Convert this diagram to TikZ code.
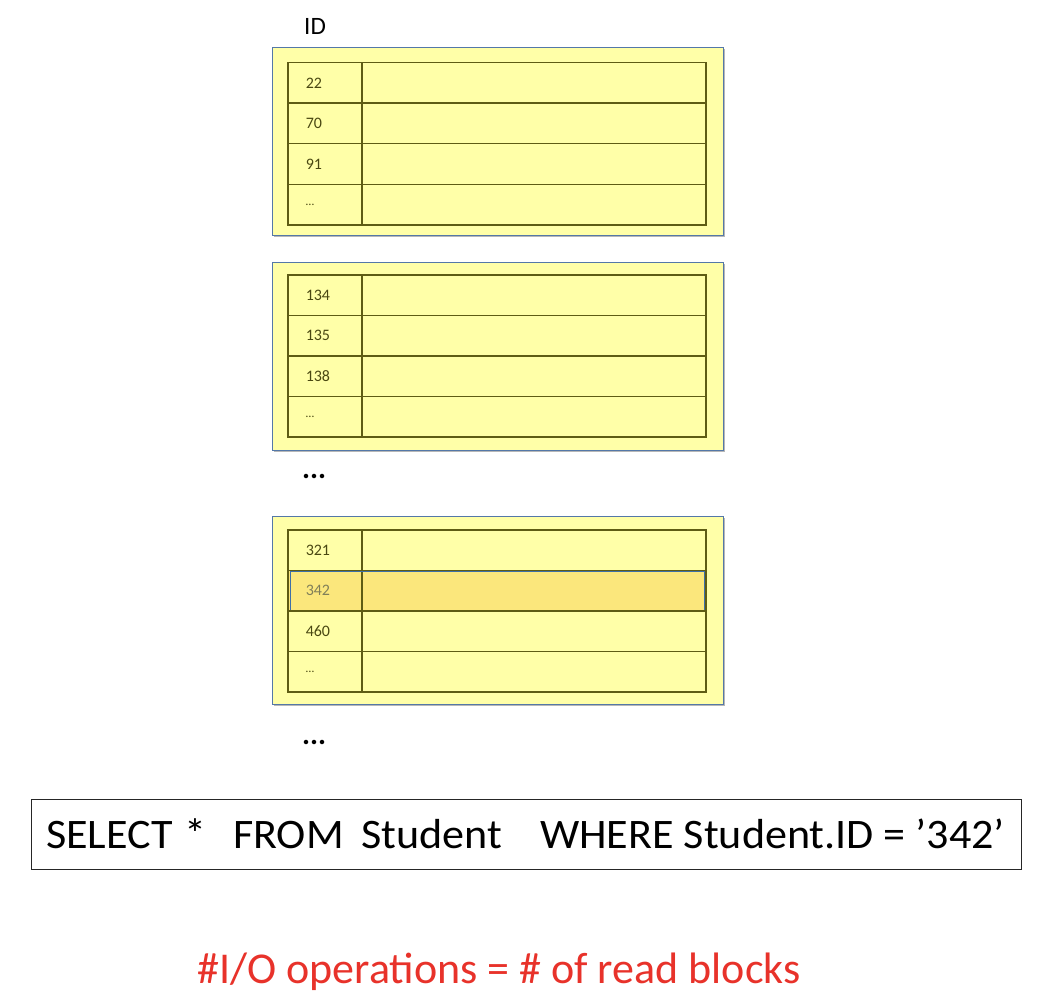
\documentclass[tikz,border=0pt]{standalone}
\usepackage{fontspec}
\setmainfont{Carlito}
\usetikzlibrary{shadows}
\definecolor{cellyellow}{HTML}{FFFFA8}
\definecolor{hiyellow}{HTML}{FBE77C}
\definecolor{olivegrid}{HTML}{5E5C14}
\definecolor{numtext}{HTML}{4A4812}
\definecolor{blockblue}{HTML}{5478A8}
\definecolor{hiblue}{HTML}{3E6FA8}
\definecolor{redtext}{HTML}{E8322A}
\tikzset{
  blockbox/.style={draw=blockblue, fill=cellyellow, line width=1.3pt, anchor=north west,
    minimum width=451pt, minimum height=188pt, inner sep=0pt,
    drop shadow={shadow xshift=1.5pt, shadow yshift=-1.5pt, fill=black!35, opacity=0.8}},
  idcell/.style={draw=olivegrid, fill=cellyellow, line width=1.5pt, anchor=north west,
    minimum height=40.5pt, text width=74pt, inner xsep=0pt, inner ysep=0pt, align=left,
    text=numtext, font=\fontsize{16}{18}\selectfont},
  datacell/.style={draw=olivegrid, fill=cellyellow, line width=1.5pt, anchor=north west,
    minimum height=40.5pt, minimum width=344pt, inner sep=0pt},
  dots/.style={anchor=west, inner sep=0pt, font=\fontsize{30}{32}\selectfont\bfseries},
  qword/.style={anchor=base west, inner sep=0pt, font=\fontsize{42}{46}\selectfont},
}
\newcommand{\idtxt}[1]{\hspace*{18pt}#1}
\newcommand{\smalldots}{\hspace*{18pt}{\fontsize{12}{14}\selectfont\dots}}
\newcommand{\qs}[1]{\scalebox{1.05}[1]{#1}}
\begin{document}
\begin{tikzpicture}[x=1pt,y=-1pt]
\useasboundingbox (0,0) rectangle (1052,1006);
\fill[white] (0,0) rectangle (1052,1006);

\node[anchor=west, inner sep=0pt, font=\fontsize{25}{28}\selectfont] (idlabel) at (304,26) {ID};

% Block 1
\node[blockbox] (b1) at (272,47) {};
\node[idcell] (b1i1) at (287,62) {\idtxt{22}};
\node[datacell] (b1d1) at (361,62) {};
\node[idcell] (b1i2) at (287,102.5) {\idtxt{70}};
\node[datacell] (b1d2) at (361,102.5) {};
\node[idcell] (b1i3) at (287,143) {\idtxt{91}};
\node[datacell] (b1d3) at (361,143) {};
\node[idcell] (b1i4) at (287,183.5) {\smalldots};
\node[datacell] (b1d4) at (361,183.5) {};

% Block 2
\node[blockbox] (b2) at (272,262) {};
\node[idcell] (b2i1) at (287,274) {\idtxt{134}};
\node[datacell] (b2d1) at (361,274) {};
\node[idcell] (b2i2) at (287,314.5) {\idtxt{135}};
\node[datacell] (b2d2) at (361,314.5) {};
\node[idcell] (b2i3) at (287,355) {\idtxt{138}};
\node[datacell] (b2d3) at (361,355) {};
\node[idcell] (b2i4) at (287,395.5) {\smalldots};
\node[datacell] (b2d4) at (361,395.5) {};

\node[dots] (gap1) at (302,476) {...};

% Block 3
\node[blockbox] (b3) at (272,516) {};
\node[idcell] (b3i1) at (287,529) {\idtxt{321}};
\node[datacell] (b3d1) at (361,529) {};
\node[idcell, fill=hiyellow, text=numtext!70] (b3i2) at (287,569.5) {\idtxt{342}};
\node[datacell, fill=hiyellow] (b3d2) at (361,569.5) {};
\node[draw=hiblue, line width=1.5pt, anchor=north west, minimum width=414pt, minimum height=39pt, inner sep=0pt] (hirow) at (289.5,570.5) {};
\node[idcell] (b3i3) at (287,610) {\idtxt{460}};
\node[datacell] (b3d3) at (361,610) {};
\node[idcell] (b3i4) at (287,650.5) {\smalldots};
\node[datacell] (b3d4) at (361,650.5) {};

\node[dots] (gap2) at (302,742) {...};

% Query
\node[draw=black!85, line width=1pt, anchor=north west, minimum width=990pt, minimum height=70pt, inner sep=0pt] (query) at (31,799) {};
\node[qword] (qselect) at (46,848) {\qs{SELECT}};
\node[qword] (qstar) at (184,848) {\qs{*}};
\node[qword] (qfrom) at (233,848) {\qs{FROM}};
\node[qword] (qstudent) at (361,848) {\qs{Student}};
\node[qword] (qwhere) at (540,848) {\qs{WHERE Student.ID = ’342’}};

\node[inner sep=0pt, text=redtext, font=\fontsize{44}{48}\selectfont] (io) at (499,972) {\#I/O operations = \# of read blocks};
\end{tikzpicture}
\end{document}
